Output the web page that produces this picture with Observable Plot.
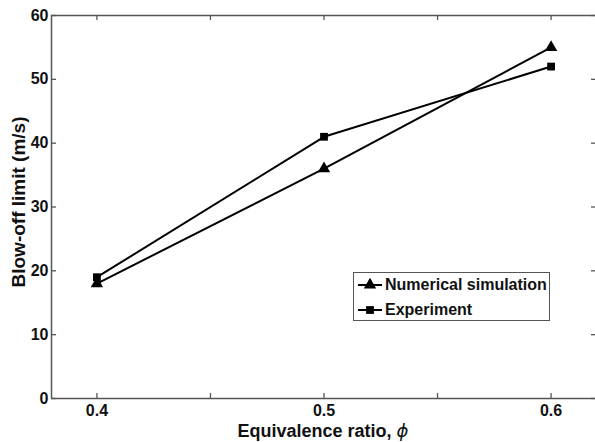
<!DOCTYPE html>
<html>
<head>
<meta charset="utf-8">
<script src="https://cdn.jsdelivr.net/npm/d3@7"></script>
<script src="https://cdn.jsdelivr.net/npm/@observablehq/plot@0.6"></script>
<style>
  body { margin: 0; background: #fff; }
  #wrap { position: relative; width: 595px; height: 442px; overflow: hidden; font-family: "Liberation Sans", Arial, sans-serif; }
  #legend {
    position: absolute; left: 353px; top: 272px; width: 195px; height: 47px;
    border: 1px solid #555; background: #fff; font-weight: bold; font-size: 16px; color: #111;
  }
  #legend .row { position: absolute; left: 4px; height: 20px; display: flex; align-items: center; }
  #legend svg { margin-right: 3px; }
</style>
</head>
<body>
<div id="wrap"></div>
<script>
// Equivalence ratio values
const phi = [0.4, 0.5, 0.6];
// Blow-off limit (m/s)
const numerical = [18, 36, 55];
const experiment = [19, 41, 52];
const seriesNames = ["Numerical simulation", "Experiment"];

const xTicks = [0.4, 0.45, 0.5, 0.55, 0.6];
const xTickLabels = [0.4, 0.5, 0.6];
const yTicks = [0, 10, 20, 30, 40, 50, 60];
const xDomain = [0.38, 0.62];
const yDomain = [0, 60];

const rows = [
  ...phi.map((p, i) => ({phi: p, v: numerical[i], s: seriesNames[0]})),
  ...phi.map((p, i) => ({phi: p, v: experiment[i], s: seriesNames[1]}))
];
const num = rows.filter(d => d.s === seriesNames[0]);
const exp = rows.filter(d => d.s === seriesNames[1]);

const axisColor = "#555";
const font = "Liberation Sans, Arial, sans-serif";

const chart = Plot.plot({
  width: 595,
  height: 442,
  marginLeft: 51,
  marginRight: -1,
  marginTop: 15,
  marginBottom: 44,
  style: {fontFamily: font, background: "#fff", color: "#111"},
  x: {domain: xDomain},
  y: {domain: yDomain},
  marks: [
    // box edges: left, bottom, top (right edge lies at the border of the figure)
    Plot.ruleX([xDomain[0]], {stroke: axisColor, strokeWidth: 1.5}),
    Plot.ruleY(yDomain, {stroke: axisColor, strokeWidth: 1.5}),
    // inward ticks on all four sides
    Plot.tickX(xTicks, {x: d => d, insetTop: 378, stroke: axisColor, strokeWidth: 1.3}),
    Plot.tickX(xTicks, {x: d => d, insetBottom: 378, stroke: axisColor, strokeWidth: 1.3}),
    Plot.tickY(yTicks, {y: d => d, insetRight: 540, stroke: axisColor, strokeWidth: 1.3}),
    Plot.tickY(yTicks, {y: d => d, insetLeft: 540, stroke: axisColor, strokeWidth: 1.3}),
    Plot.axisX(xTickLabels, {tickSize: 0, tickPadding: 6, fontSize: 16, fontWeight: "bold", tickFormat: d => String(d), label: null}),
    Plot.axisY(yTicks, {tickSize: 0, tickPadding: 3, fontSize: 16, fontWeight: "bold", label: null}),
    Plot.line(num, {x: "phi", y: "v", stroke: "#000", strokeWidth: 2}),
    Plot.line(exp, {x: "phi", y: "v", stroke: "#000", strokeWidth: 2}),
    Plot.dot(num, {x: "phi", y: "v", symbol: "triangle", r: 4.6, fill: "#000", stroke: null}),
    Plot.dot(exp, {x: "phi", y: "v", symbol: "square", r: 4.4, fill: "#000", stroke: null})
  ]
});

// axis titles
const svg = d3.select(chart);
svg.append("text")
  .attr("x", 323).attr("y", 437)
  .attr("text-anchor", "middle")
  .attr("font-size", 18).attr("font-weight", "bold").attr("fill", "#111")
  .attr("font-family", font)
  .call(t => {
    t.append("tspan").text("Equivalence ratio, ");
    t.append("tspan").attr("font-style", "italic").attr("font-weight", "normal").attr("font-family", "DejaVu Sans").text("ϕ");
  });
svg.append("text")
  .attr("transform", "translate(25,202) rotate(-90)")
  .attr("text-anchor", "middle")
  .attr("font-size", 19).attr("font-weight", "bold").attr("fill", "#111")
  .attr("font-family", font)
  .text("Blow-off limit (m/s)");

const wrap = document.getElementById("wrap");
wrap.appendChild(chart);

// legend
const legend = document.createElement("div");
legend.id = "legend";
const symbols = {
  [seriesNames[0]]: d3.symbol(d3.symbolTriangle, Math.PI * 4.6 * 4.6)(),
  [seriesNames[1]]: d3.symbol(d3.symbolSquare, Math.PI * 4.4 * 4.4)()
};
seriesNames.forEach((name, i) => {
  const row = document.createElement("div");
  row.className = "row";
  row.style.top = (2 + i * 25) + "px";
  row.innerHTML = `<svg width="24" height="16"><line x1="0" y1="8" x2="24" y2="8" stroke="#000" stroke-width="2"/><path d="${symbols[name]}" transform="translate(12,8)" fill="#000"/></svg><span>${name}</span>`;
  legend.appendChild(row);
});
wrap.appendChild(legend);
</script>
</body>
</html>
